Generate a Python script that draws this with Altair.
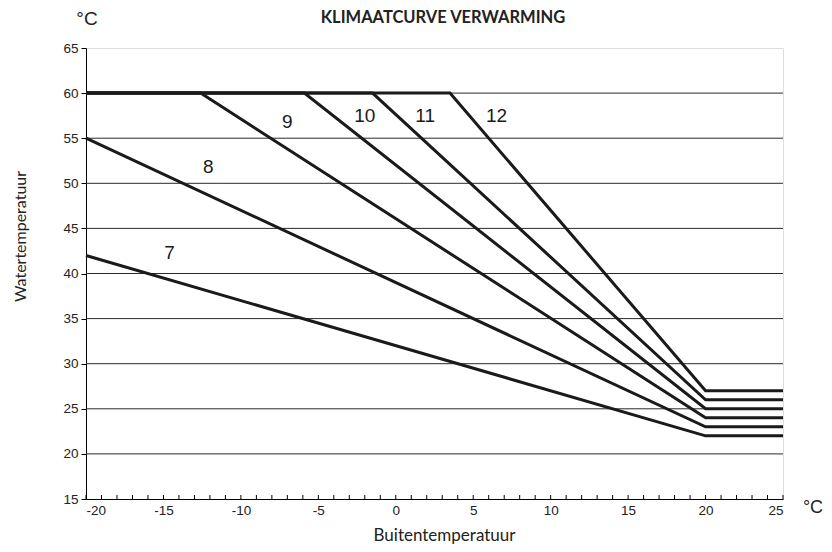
import altair as alt
import pandas as pd

# Curve break points (outside temperature, water temperature)
curve_ids = ["7", "8", "9", "10", "11", "12"]
curve_x = [
    [-20, 20, 25],
    [-20, 20, 25],
    [-20, -12.6, 20, 25],
    [-20, -5.9, 20, 25],
    [-20, -1.5, 20, 25],
    [-20, 3.5, 20, 25],
]
curve_y = [
    [42, 22, 22],
    [55, 23, 23],
    [60, 60, 24, 24],
    [60, 60, 25, 25],
    [60, 60, 26, 26],
    [60, 60, 27, 27],
]

label_text = ["7", "8", "9", "10", "11", "12"]
label_x = [-14.6, -12.1, -7.0, -2.0, 1.9, 6.5]
label_y = [42.3, 51.8, 56.8, 57.5, 57.5, 57.5]

x_major = [-20, -15, -10, -5, 0, 5, 10, 15, 20, 25]
x_minor = list(range(-20, 26))
y_ticks = [15, 20, 25, 30, 35, 40, 45, 50, 55, 60, 65]
grid_vals = [20, 25, 30, 35, 40, 45, 50, 55, 60]

rows = []
for cid, xs, ys in zip(curve_ids, curve_x, curve_y):
    for i, (a, b) in enumerate(zip(xs, ys)):
        rows.append({"curve": cid, "order": i, "x": a, "y": b})
df = pd.DataFrame(rows)
labels = pd.DataFrame({"t": label_text, "x": label_x, "y": label_y})
minor = pd.DataFrame({"x": x_minor})
grid = pd.DataFrame({"y": grid_vals})

W, H = 697, 451
xs = alt.Scale(domain=[-20, 25], nice=False)
ys = alt.Scale(domain=[15, 65], nice=False)
FONT = "Liberation Sans"

gridlines = alt.Chart(grid).mark_rule(color="#2a2a2a", strokeWidth=1).encode(
    y=alt.Y("y:Q", scale=ys, axis=alt.Axis(
        values=y_ticks, title="Watertemperatuur", domainColor="black",
        tickColor="black", tickSize=5, labelFont=FONT, labelFontSize=13.5,
        labelColor="#222", labelPadding=3, grid=False,
        titleFont="Lato", titleFontSize=16, titleFontWeight="normal",
        titleColor="#222", titleX=-66, titleY=188, titleAngle=-90,
        titleAlign="center", titleBaseline="middle")),
)

lines = alt.Chart(df).mark_line(color="#1a1a1a", strokeWidth=3,
                                strokeJoin="miter").encode(
    x=alt.X("x:Q", scale=xs, axis=alt.Axis(
        values=x_major, title="Buitentemperatuur", ticks=False,
        labelExpr="'' + datum.value",
        domainColor="black", labelFont=FONT, labelFontSize=13.5,
        labelColor="#222", labelPadding=4, grid=False,
        titleFont="Lato", titleFontSize=17, titleFontWeight="normal",
        titleColor="#222", titleX=358, titleY=41,
        titleBaseline="alphabetic")),
    y=alt.Y("y:Q", scale=ys),
    detail="curve:N",
    order="order:Q",
)

ticks = alt.Chart(minor).mark_rule(color="black", strokeWidth=1).encode(
    x=alt.X("x:Q", scale=xs),
    y=alt.value(H),
    y2=alt.value(H - 4),
)

text = alt.Chart(labels).mark_text(font=FONT, fontSize=19, color="#1a1a1a").encode(
    x=alt.X("x:Q", scale=xs),
    y=alt.Y("y:Q", scale=ys),
    text="t:N",
)

ann = pd.DataFrame({"t": ["KLIMAATCURVE VERWARMING"]})
title = alt.Chart(ann).mark_text(font="Lato", fontSize=16.5, fontWeight="bold",
                                 baseline="alphabetic", color="#222").encode(
    text="t:N", x=alt.value(357), y=alt.value(-25))

degC = pd.DataFrame({"t": ["°C"]})
deg_top = alt.Chart(degC).mark_text(font=FONT, fontSize=19, color="#222").encode(
    text="t:N", x=alt.value(1), y=alt.value(-29))
deg_right = alt.Chart(degC).mark_text(font=FONT, fontSize=18, color="#222").encode(
    text="t:N", x=alt.value(727), y=alt.value(460))

chart = alt.layer(gridlines, lines, ticks, text, title, deg_top, deg_right).properties(
    width=W, height=H,
    autosize=alt.AutoSizeParams(type="none"),
    padding={"left": 78, "top": 40, "right": 41, "bottom": 45},
).configure_view(stroke="#9a9a9a", strokeWidth=1.5).configure(background="white")

chart.save("out.html", embed_options={"renderer": "svg", "actions": False})
